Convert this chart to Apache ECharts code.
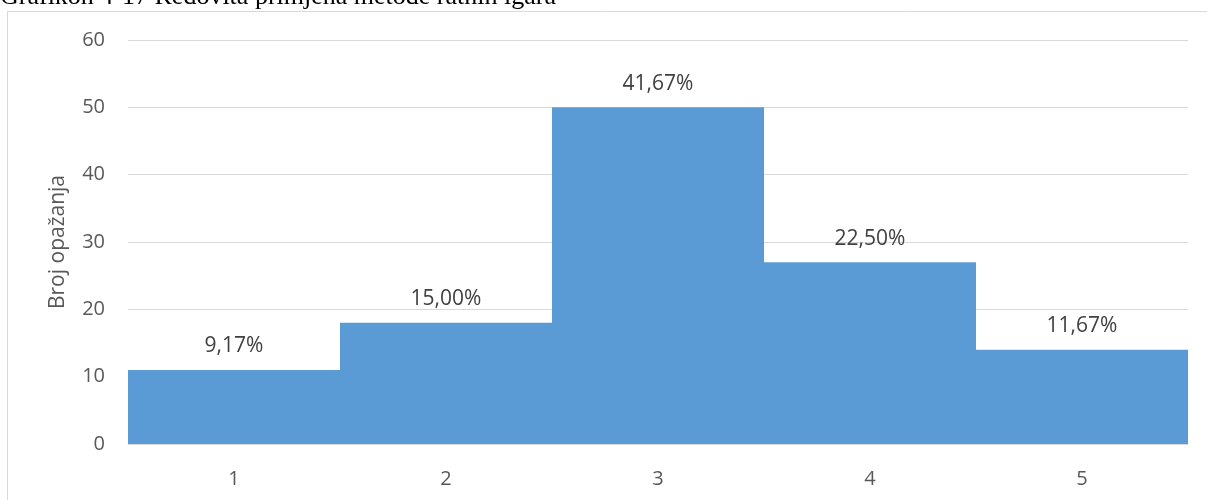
<!DOCTYPE html>
<html>
<head>
<meta charset="utf-8">
<script src="https://cdn.jsdelivr.net/npm/echarts@6/dist/echarts.min.js"></script>
<style>
  html, body { margin: 0; padding: 0; background: #fff; }
  #chart { width: 1207px; height: 500px; }
</style>
</head>
<body>
<div id="chart"></div>
<script>
const categories = ['1', '2', '3', '4', '5'];
const counts = [11, 18, 50, 27, 14];
const percentLabels = ['9,17%', '15,00%', '41,67%', '22,50%', '11,67%'];

const chart = echarts.init(document.getElementById('chart'));

chart.setOption({
  animation: false,
  title: {
    text: 'Grafikon 4-17 Redovita primjena metode ratnih igara',
    left: 0,
    top: -16,
    padding: 0,
    textStyle: {
      fontFamily: 'Liberation Serif',
      fontSize: 26,
      fontWeight: 'normal',
      color: '#000',
    },
  },
  graphic: [
    {
      type: 'rect',
      shape: { x: 7.5, y: 11.5, width: 1400, height: 700 },
      style: { fill: 'none', stroke: '#d9d9d9', lineWidth: 1 },
      silent: true,
    },
  ],
  grid: { left: 128, right: 19, top: 40, bottom: 56 },
  xAxis: {
    type: 'category',
    data: categories,
    axisLine: { lineStyle: { color: '#d9d9d9' } },
    axisTick: { show: false },
    axisLabel: {
      margin: 25,
      fontFamily: 'Open Sans',
      fontSize: 20,
      color: '#595959',
    },
  },
  yAxis: {
    type: 'value',
    min: 0,
    max: 60,
    interval: 10,
    name: 'Broj opažanja',
    nameLocation: 'middle',
    nameGap: 59,
    nameTextStyle: {
      fontFamily: 'Open Sans',
      fontSize: 21,
      color: '#595959',
    },
    axisLine: { show: false },
    axisTick: { show: false },
    splitLine: { lineStyle: { color: '#d9d9d9' } },
    axisLabel: {
      margin: 23,
      fontFamily: 'Open Sans',
      fontSize: 20,
      color: '#595959',
    },
  },
  series: [
    {
      type: 'bar',
      data: counts,
      barCategoryGap: 0,
      itemStyle: { color: '#5b9bd5' },
      label: {
        show: true,
        position: 'top',
        distance: 13,
        fontFamily: 'Open Sans',
        fontSize: 21,
        color: '#404040',
        formatter: (p) => percentLabels[p.dataIndex],
      },
    },
  ],
});
</script>
</body>
</html>
